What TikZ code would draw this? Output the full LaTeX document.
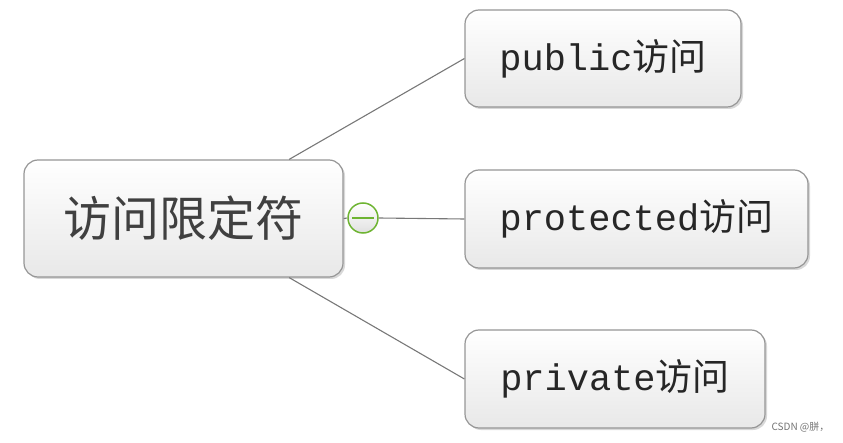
\documentclass[tikz,border=0pt]{standalone}
\usepackage{fontspec}
\setmonofont{Liberation Mono}
\newfontfamily\cjk{Noto Sans CJK SC}
\usetikzlibrary{calc, shadows}
\definecolor{boxedge}{RGB}{150,150,150}
\definecolor{linkgray}{RGB}{120,120,120}
\definecolor{foldgreen}{RGB}{110,180,50}

\begin{document}
\begin{tikzpicture}[
  x=1pt, y=-1pt,
  topic/.style = {
    rectangle, rounded corners=14pt, draw=boxedge, line width=1.2pt,
    top color=white, bottom color=black!9,
    drop shadow={shadow xshift=2pt, shadow yshift=-2pt, fill=black!30, opacity=0.5},
    inner sep=0pt
  },
  sub/.style = {topic, font=\fontsize{37}{42}\selectfont\ttfamily, text=black!85},
  link/.style = {draw=linkgray, line width=1.1pt}
]
\useasboundingbox (0,0) rectangle (843,443);
\node[topic, minimum width=319pt, minimum height=117pt,
      font=\fontsize{48}{54}\selectfont\cjk, text=black!75] (root) at (183.5,218.5) {访问限定符};
\node[sub, minimum width=276pt, minimum height=97pt]  (pub)  at (603,58.5)  {public{\cjk 访问}};
\node[sub, minimum width=343pt, minimum height=98pt]  (prot) at (636.5,219) {protected{\cjk 访问}};
\node[sub, minimum width=300pt, minimum height=98pt]  (priv) at (615,379)   {private{\cjk 访问}};
\node[circle, draw=foldgreen, line width=1.5pt, minimum size=30pt, inner sep=0pt,
      top color=white, bottom color=black!12] (fold) at (363,218) {};
% links
\draw[link] ($(root.north west)!0.83!(root.north east)$) -- (pub.west);
\draw[link] ($(root.south west)!0.83!(root.south east)$) -- (priv.west);
\draw[link] (root.east) -- (fold.west);
\draw[link] (fold.east) -- (prot.west);
\draw[foldgreen, line width=2.6pt] ($(fold.west)+(5,0)$) -- ($(fold.east)+(-5,0)$);
\node[font=\fontsize{10}{12}\selectfont\cjk, text=black!55, anchor=west] (mark) at (768,427) {CSDN @胼，};
\end{tikzpicture}
\end{document}
